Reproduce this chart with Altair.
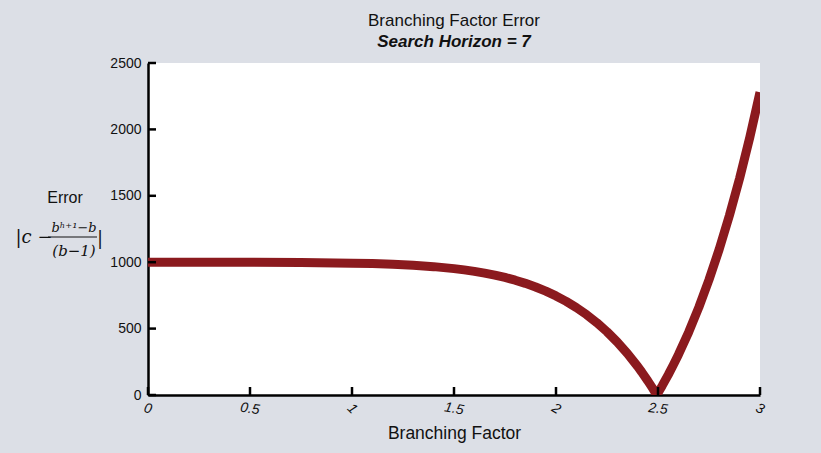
import altair as alt
import pandas as pd

# Branching factor b and the error |c - (b^(h+1) - b)/(b - 1)| for c = 1000, h = 7
branching = [0.0, 0.25, 0.5, 0.75, 1.0, 1.1, 1.2, 1.3, 1.4, 1.5, 1.55, 1.6, 1.65, 1.7,
             1.75, 1.8, 1.85, 1.9, 1.95, 2.0, 2.05, 2.1, 2.15, 2.2, 2.25, 2.3, 2.35,
             2.4, 2.42, 2.45, 2.47, 2.494, 2.52, 2.55, 2.575, 2.6, 2.65, 2.7, 2.75,
             2.8, 2.85, 2.9, 2.95, 3.0]
error = [1000, 999.7, 999, 997.4, 993, 989.6, 984.5, 977.1, 966.6, 951.7, 942.2, 931.1,
         918.0, 902.8, 885.0, 864.5, 840.8, 813.4, 782.0, 746, 704.9, 658.1, 604.9,
         544.5, 476.3, 399.4, 312.8, 215.5, 173.3, 106.4, 59.2, 0, 68.3, 151.8, 225.6,
         303.5, 472.4, 659.8, 867.5, 1097.3, 1351.3, 1631.4, 1939.7, 2279]

x_ticks = [0, 0.5, 1, 1.5, 2, 2.5, 3]
x_tick_labels = ["0", "0.5", "1", "1.5", "2", "2.5", "3"]
x_label_angles = [12, 8, 45, 10, 30, 6, 25]
y_ticks = [0, 500, 1000, 1500, 2000, 2500]

W, H = 612, 332
FONT = "Liberation Sans"
MATH = "DejaVu Serif"

curve = pd.DataFrame({"b": branching, "err": error})
xt = pd.DataFrame({"b": x_ticks, "lab": x_tick_labels, "ang": x_label_angles})
yt = pd.DataFrame({"v": y_ticks})

xs = alt.Scale(domain=[0, 3], nice=False, zero=False)
ys = alt.Scale(domain=[0, 2500], nice=False)

line = alt.Chart(curve).mark_line(
    color="#8b1a1e", strokeWidth=9, clip=True, strokeJoin="round"
).encode(
    x=alt.X("b:Q", scale=xs,
            axis=alt.Axis(title="Branching Factor", labels=False, ticks=False,
                          grid=False, domainColor="#000", domainWidth=2.5,
                          titleFontSize=17.5, titleFont=FONT, titleFontWeight="normal",
                          titleColor="#111", titlePadding=29)),
    y=alt.Y("err:Q", scale=ys,
            axis=alt.Axis(title=None, values=y_ticks, format="d", ticks=False, grid=False,
                          domainColor="#000", domainWidth=2.5, labelFont=FONT,
                          labelFontSize=14, labelColor="#111", labelPadding=7)),
)

xtick_rules = alt.Chart(xt).mark_rule(color="#000", strokeWidth=2.5).encode(
    x=alt.X("b:Q", scale=xs), y=alt.value(H), y2=alt.value(H - 8)
)
ytick_rules = alt.Chart(yt).mark_rule(color="#000", strokeWidth=2.5).encode(
    y=alt.Y("v:Q", scale=ys), x=alt.value(0), x2=alt.value(8)
)
xtick_labels = alt.Chart(xt).mark_text(
    font=FONT, fontSize=14, fontStyle="italic", color="#111", baseline="middle", align="center"
).encode(
    x=alt.X("b:Q", scale=xs), y=alt.value(H + 14),
    angle=alt.Angle("ang:Q", scale=None), text="lab:N"
)

one = pd.DataFrame({"k": [0]})
def label(txt, x, y, size, font=FONT, style="normal", baseline="alphabetic", align="center"):
    return alt.Chart(one).mark_text(
        text=txt, font=font, fontSize=size, fontStyle=style, color="#111",
        baseline=baseline, align=align
    ).encode(x=alt.value(x), y=alt.value(y))

y_title = label("Error", -83, 135, 16, baseline="middle")
f_left = label("|c −", -114, 180, 18, font=MATH, style="italic")
f_num = label("bʰ⁺¹−b", -74, 169, 13, font=MATH, style="italic")
f_den = label("(b−1)", -74, 193, 15, font=MATH, style="italic")
f_right = label("|", -48, 181, 18, font=MATH)
f_bar = alt.Chart(one).mark_rule(color="#111", strokeWidth=1).encode(
    x=alt.value(-100), x2=alt.value(-51), y=alt.value(174)
)

chart = alt.layer(
    line, xtick_rules, ytick_rules, xtick_labels,
    y_title, f_left, f_num, f_den, f_right, f_bar
).properties(
    width=W, height=H,
    title=alt.TitleParams(
        "Branching Factor Error", subtitle="Search Horizon = 7",
        font=FONT, fontSize=17, fontWeight="normal", color="#111",
        subtitleFont=FONT, subtitleFontSize=17, subtitleFontWeight="bold",
        subtitleFontStyle="italic", subtitleColor="#111", subtitlePadding=4,
        anchor="middle", offset=5
    ),
    autosize=alt.AutoSizeParams(type="none"),
    padding={"left": 148, "top": 63, "right": 61, "bottom": 58},
    background="#dcdfe6",
).configure_view(fill="white", stroke=None)

chart.save("out.html", embed_options={"renderer": "svg", "actions": False})
